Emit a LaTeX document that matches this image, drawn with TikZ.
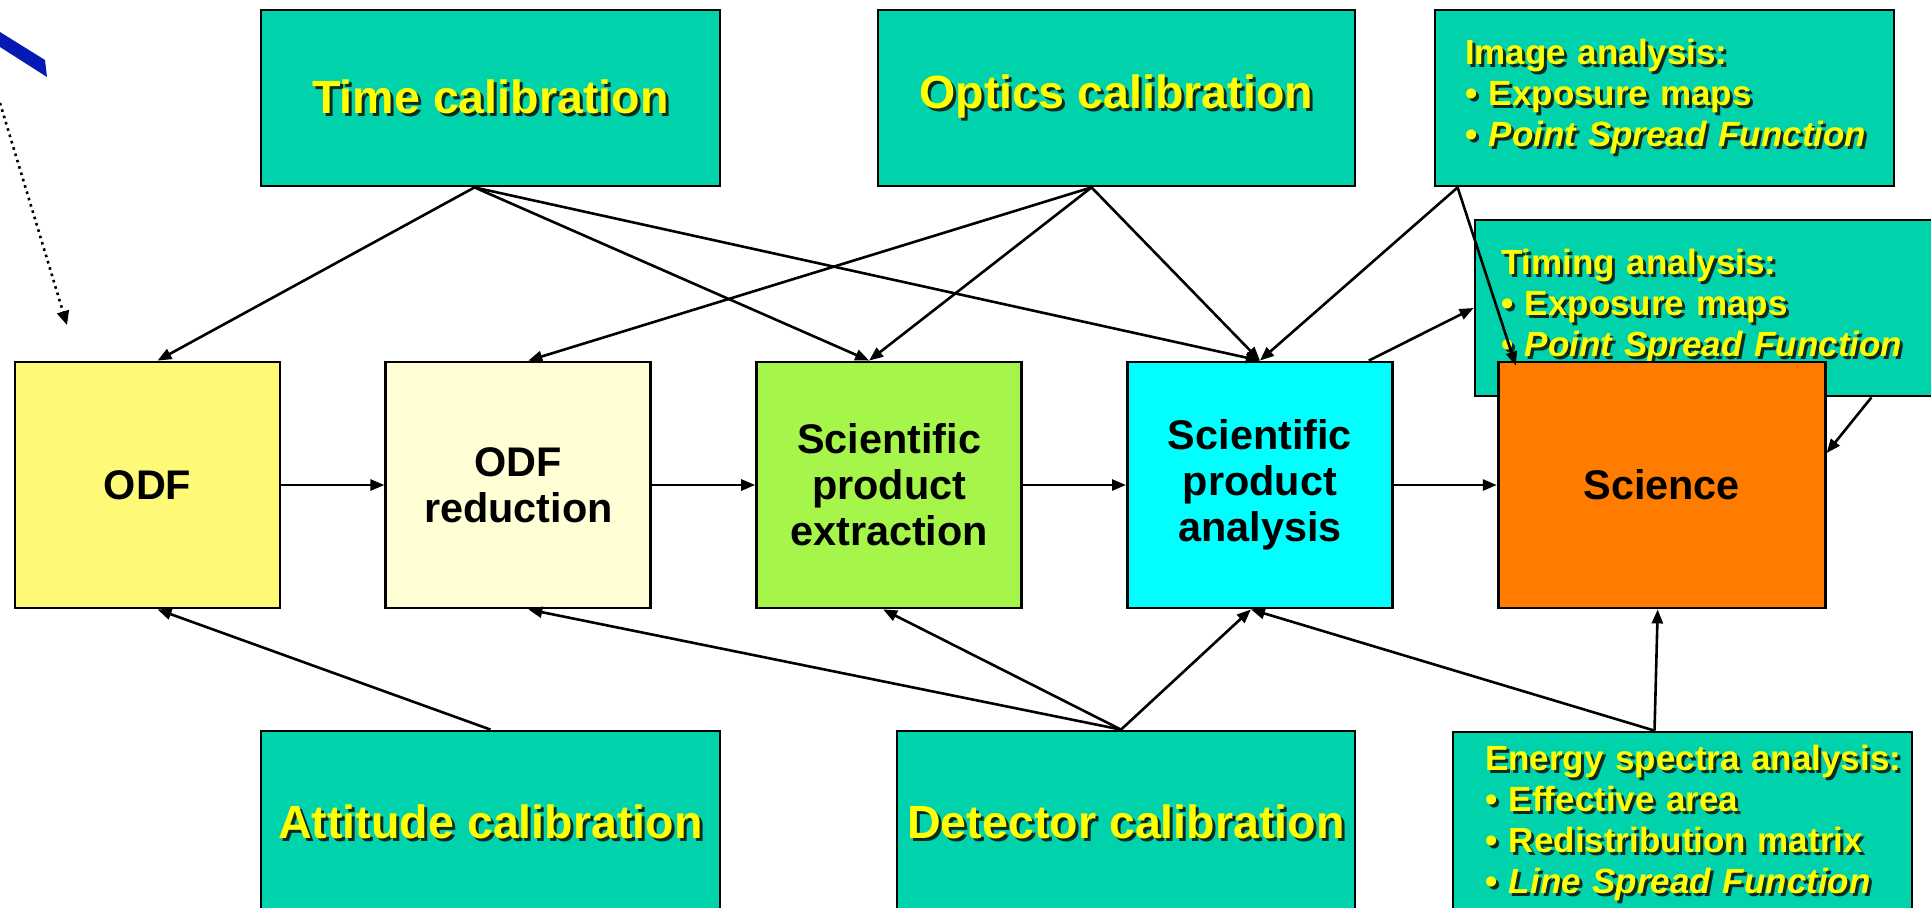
\documentclass[tikz,border=0pt]{standalone}
\usepackage{fontspec}
\setmainfont{Liberation Sans}
\usetikzlibrary{positioning,arrows.meta}
\definecolor{ink}{HTML}{000000}
\definecolor{calf}{HTML}{00D2AC}
\definecolor{txty}{HTML}{FFFF00}
\definecolor{shd}{HTML}{0A2A24}
\definecolor{odff}{HTML}{FFF978}
\definecolor{redf}{HTML}{FFFED4}
\definecolor{extf}{HTML}{A6F54A}
\definecolor{anaf}{HTML}{00FFFF}
\definecolor{scif}{HTML}{FF7C00}
\definecolor{blu}{HTML}{0519B4}
\newcommand{\shd}[1]{\leavevmode\rlap{\kern1.5pt\raisebox{-1.5pt}{\color{shd}#1}}\mbox{#1}}

\begin{document}
\begin{tikzpicture}[x=0.5pt, y=-0.5pt,
  stage/.style={draw=ink, line width=1.4pt, fill=#1, minimum width=132.5pt, minimum height=123pt, align=center, text=ink, inner sep=2pt, font=\fontsize{20.7pt}{23pt}\selectfont\bfseries},
  calbox/.style={draw=ink, line width=1.4pt, fill=calf, minimum width=229.5pt, minimum height=88pt, text=txty, font=\fontsize{23.3pt}{28pt}\selectfont\bfseries},
  listbox/.style={calbox, align=left, inner xsep=11pt, font=\fontsize{17.5pt}{20.5pt}\selectfont\bfseries},
  arr/.style={-{Triangle[length=7pt,width=5.5pt]}, line width=1.3pt, draw=ink}]
\useasboundingbox (0,0) rectangle (1931,907);
% ---------------- corner mark
\fill[blu] (0,32) -- (45,60) -- (47,77) -- (0,47) -- cycle;
\coordinate (dotstart) at (0,103);
\coordinate (dotend) at (67,325);
\draw[dotted, line width=1.3pt, -{Triangle[length=7pt,width=6pt]}] (dotstart) -- (dotend);
% ---------------- processing chain
\node[stage=odff] (odf) at (147.5,485) {ODF};
\node[stage=redf, right=51.5pt of odf] (red) {ODF\\reduction};
\node[stage=extf, right=51.5pt of red] (ext) {Scientific\\product\\extraction};
\node[stage=anaf, right=51.5pt of ext] (ana) {Scientific\\product\\analysis};
% ---------------- calibrations
\node[calbox] (time) at (490.5,98) {\shd{Time calibration}};
\node[calbox, minimum width=238.5pt] (opt) at (1116.5,98) {\shd{Optics calibration}};
\node[listbox, text width=199.5pt] (imgan) at (1664.5,98) {\shd{Image analysis:}\\\shd{• Exposure maps}\\\shd{• \textit{Point Spread Function}}};
\node[listbox, text width=203.5pt] (timing) at (1704.5,308) {\shd{Timing analysis:}\\\shd{• Exposure maps}\\\shd{• \textit{Point Spread Function}}};
\node[stage=scif, minimum width=163.5pt, right=51.5pt of ana] (sci) {Science};
\node[calbox, minimum height=92pt] (att) at (490.5,823) {\shd{Attitude calibration}};
\node[calbox, minimum width=229pt, minimum height=92pt] (det) at (1126,823) {\shd{Detector calibration}};
\node[listbox, inner xsep=11.5pt, text width=197.5pt, minimum height=92pt] (energy) at (1682.5,824) {\shd{Energy spectra analysis:}\\\shd{• Effective area}\\\shd{• Redistribution matrix}\\\shd{• \textit{Line Spread Function}}};
% ---------------- arrows from above
\draw[arr] ([xshift=-8pt]time.south) -- ([xshift=5pt]odf.north);
\draw[arr] ([xshift=-8pt]time.south) -- ([xshift=-10pt]ext.north);
\draw[arr] ([xshift=-8pt]time.south) -- (ana.north);
\draw[arr] ([xshift=-12.5pt]opt.south) -- ([xshift=5pt]red.north);
\draw[arr] ([xshift=-12.5pt]opt.south) -- ([xshift=-10pt]ext.north);
\draw[arr] ([xshift=-12.5pt]opt.south) -- (ana.north);
\draw[arr] ([xshift=12pt]imgan.south west) -- (ana.north);
\draw[arr] ([xshift=12pt]imgan.south west) -- ([xshift=9.5pt,yshift=-2.5pt]sci.north west);
\draw[arr] ([xshift=-12.5pt]ana.north east) -- (timing.west);
\draw[arr] ([xshift=-32pt]timing.south east) -- ([yshift=16pt]sci.east);
% ---------------- chain
\draw[arr] (odf) -- (red);
\draw[arr] (red) -- (ext);
\draw[arr] (ext) -- (ana);
\draw[arr] (ana) -- (sci);
% ---------------- arrows from below
\draw[arr] (att.north) -- ([xshift=5pt]odf.south);
\draw[arr] ([xshift=-2.5pt]det.north) -- ([xshift=5pt]red.south);
\draw[arr] ([xshift=-2.5pt]det.north) -- ([xshift=-3pt]ext.south);
\draw[arr] ([xshift=-2.5pt]det.north) -- ([xshift=-4.5pt]ana.south);
\draw[arr] ([xshift=-14pt]energy.north) -- ([xshift=-4.5pt]ana.south);
\draw[arr] ([xshift=-14pt]energy.north) -- ([xshift=-2pt]sci.south);
\end{tikzpicture}
\end{document}
